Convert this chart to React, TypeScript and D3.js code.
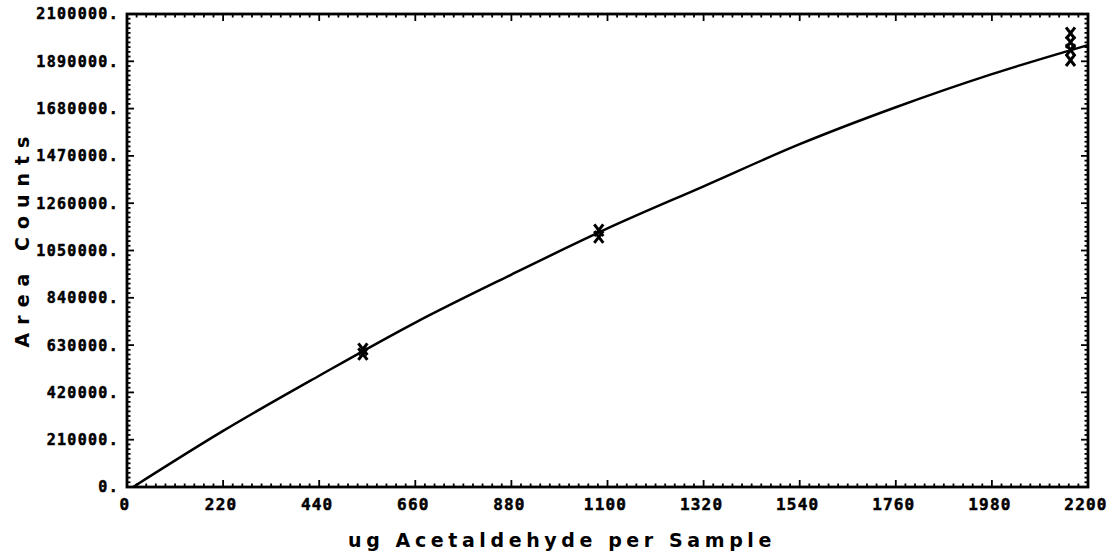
import React from "react";
import * as d3 from "d3";

// Fitted calibration curve (ug acetaldehyde vs area counts)
const curveX = [14, 220, 440, 660, 880, 1100, 1320, 1540, 1760, 1980, 2200];
const curveY = [0, 249000, 494000, 730000, 943000, 1148000, 1335000, 1522000, 1686000, 1833000, 1962000];

// Measured standards
const sampleX = [540, 540, 1080, 1080, 2160, 2160, 2160, 2160];
const sampleY = [612000, 590000, 1140000, 1110000, 2015000, 1975000, 1940000, 1895000];

const xTicks = [0, 220, 440, 660, 880, 1100, 1320, 1540, 1760, 1980, 2200];
const yTicks = [0, 210000, 420000, 630000, 840000, 1050000, 1260000, 1470000, 1680000, 1890000, 2100000];

const xTitle = "ug Acetaldehyde per Sample";
const yTitle = "Area Counts";

export default function App() {
  const W = 1115, H = 556;
  const left = 127, right = 1088, top = 14, bottom = 487;
  const x = d3.scaleLinear().domain([0, 2200]).range([left, right]);
  const y = d3.scaleLinear().domain([0, 2100000]).range([bottom, top]);

  const line = d3
    .line<number>()
    .x((_, i) => x(curveX[i]))
    .y((d) => y(d))
    .curve(d3.curveMonotoneX);

  const minorX = d3.range(0, 2200 + 0.1, 22);
  const minorY = d3.range(0, 2100000 + 1, 21000);
  const isMajorX = (v: number) => Math.abs(v / 220 - Math.round(v / 220)) < 1e-6;
  const isMajorY = (v: number) => Math.abs(v / 210000 - Math.round(v / 210000)) < 1e-6;

  const font = "'DejaVu Sans Mono', monospace";
  const titleFont = "'DejaVu Sans', sans-serif";

  return (
    <svg
      width={W}
      height={H}
      style={{ position: "absolute", left: 0, top: 0, background: "#fff" }}
    >
      {minorX.map((v, i) => {
        const len = isMajorX(v) ? 7 : 3.5;
        return (
          <g key={"tx" + i} stroke="#000" strokeWidth={1.8}>
            <line x1={x(v)} x2={x(v)} y1={bottom} y2={bottom - len} />
            <line x1={x(v)} x2={x(v)} y1={top} y2={top + len} />
          </g>
        );
      })}
      {minorY.map((v, i) => {
        const len = isMajorY(v) ? 7 : 3.5;
        return (
          <g key={"ty" + i} stroke="#000" strokeWidth={1.8}>
            <line x1={left} x2={left + len} y1={y(v)} y2={y(v)} />
            <line x1={right} x2={right - len} y1={y(v)} y2={y(v)} />
          </g>
        );
      })}
      <rect
        x={left}
        y={top}
        width={right - left}
        height={bottom - top}
        fill="none"
        stroke="#000"
        strokeWidth={2.8}
      />

      {yTicks.map((v) => (
        <text
          key={"yl" + v}
          x={119}
          y={y(v)}
          dy="0.36em"
          textAnchor="end"
          fontFamily={font}
          fontWeight="bold"
          fontSize={15}
          letterSpacing={1.3}
          stroke="#000"
          strokeWidth={0.5}
        >
          {v + "."}
        </text>
      ))}
      {xTicks.map((v) => (
        <text
          key={"xl" + v}
          x={x(v) - 2}
          y={504}
          dy="0.36em"
          textAnchor="middle"
          fontFamily={font}
          fontWeight="bold"
          fontSize={16}
          letterSpacing={1.2}
          stroke="#000"
          strokeWidth={0.5}
        >
          {v}
        </text>
      ))}

      <path d={line(curveY) || ""} fill="none" stroke="#000" strokeWidth={2.5} />

      {sampleX.map((sx, i) => {
        const cx = x(sx);
        const cy = y(sampleY[i]);
        const s = 4.5;
        return (
          <path
            key={"m" + i}
            d={`M${cx - s},${cy - s * 1.3}L${cx + s},${cy + s * 1.3}M${cx + s},${cy - s * 1.3}L${cx - s},${cy + s * 1.3}`}
            stroke="#000"
            strokeWidth={3}
            fill="none"
          />
        );
      })}

      <text
        x={562}
        y={540}
        dy="0.36em"
        textAnchor="middle"
        fontFamily={titleFont}
        fontWeight="bold"
        fontSize={19}
        letterSpacing={4.6}
      >
        {xTitle}
      </text>
      <text
        transform={`translate(22,${238}) rotate(-90)`}
        textAnchor="middle"
        dy="0.36em"
        fontFamily={titleFont}
        fontWeight="bold"
        fontSize={19}
        letterSpacing={8}
      >
        {yTitle}
      </text>
    </svg>
  );
}
